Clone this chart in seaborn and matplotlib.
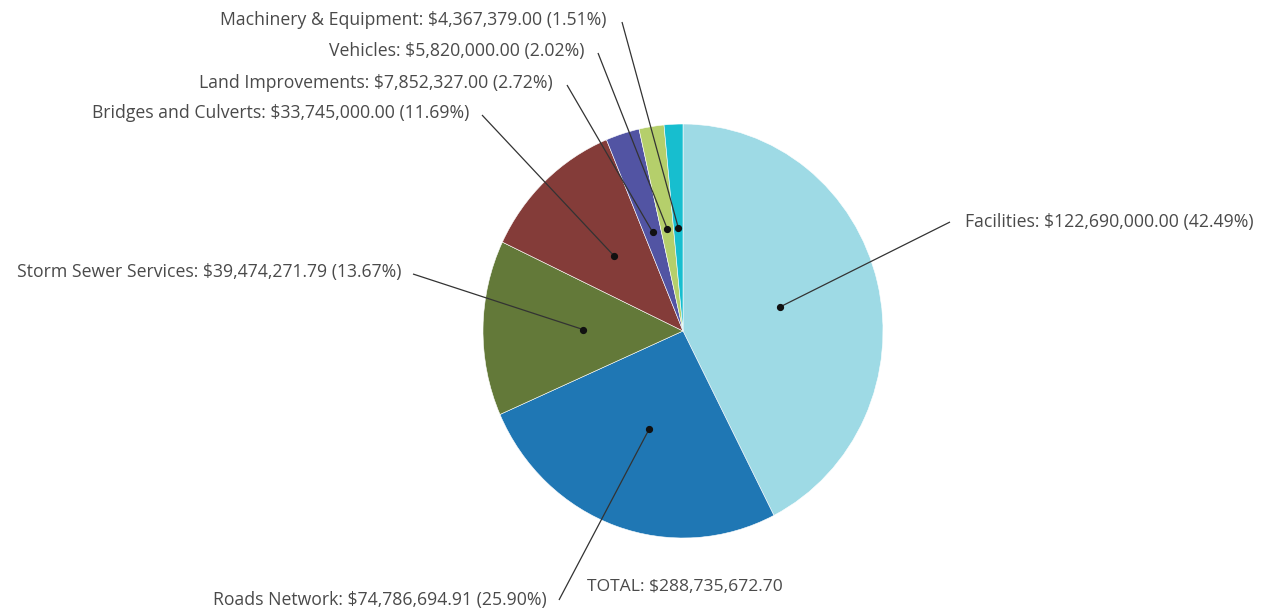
import numpy as np
import matplotlib
matplotlib.use("Agg")
import matplotlib.pyplot as plt
import seaborn as sns

categories = [
    "Facilities",
    "Roads Network",
    "Storm Sewer Services",
    "Bridges and Culverts",
    "Land Improvements",
    "Vehicles",
    "Machinery & Equipment",
]
values = [122690000.00, 74786694.91, 39474271.79, 33745000.00, 7852327.00, 5820000.00, 4367379.00]
slice_colors = ["#9edae5", "#1f77b4", "#637939", "#843c39", "#5254a3", "#b5cf6b", "#17becf"]

# label layout in pixels: (line end x, line end y, text x, text y, align)
label_layout = [
    (950, 222, 965, 222, "left"),
    (559, 600, 547, 600, "right"),
    (413, 274, 401, 272, "right"),
    (482, 115, 469, 113, "right"),
    (567, 85, 553, 83, "right"),
    (598, 53, 584, 51, "right"),
    (622, 22, 606, 20, "right"),
]

sns.set_style("white")
plt.rcParams["font.family"] = ["Open Sans", "DejaVu Sans"]

W, H = 1269, 611
KY = 1.035  # reference pie is a touch taller than wide

fig = plt.figure(figsize=(W / 100, H / 100), dpi=100)
ax = fig.add_axes([0, 0, 1, 1])

cx, cy, r = 683, 331 / KY, 200
wedges, _ = ax.pie(values, colors=slice_colors, startangle=-90, counterclock=True,
                   radius=r, center=(cx, cy),
                   wedgeprops=dict(edgecolor="white", linewidth=0.4))
ax.set_aspect("auto")
ax.set_xlim(0, W)
ax.set_ylim(H / KY, 0)
ax.axis("off")

total = sum(values)
for w, name, v, (lx, ly, tx, ty, ha) in zip(wedges, categories, values, label_layout):
    mid = np.deg2rad((w.theta1 + w.theta2) / 2)
    dx, dy = cx + 0.5 * r * np.cos(mid), cy + 0.5 * r * np.sin(mid)
    ax.plot([dx, lx], [dy, ly / KY], color="#333333", lw=0.9, solid_capstyle="butt")
    ax.plot(dx, dy, "o", color="#111111", ms=4.2)
    ax.text(tx, ty / KY, f"{name}: ${v:,.2f} ({v / total * 100:.2f}%)",
            ha=ha, va="center", fontsize=12.7, color="#4a4a4a")

ax.text(587, 587 / KY, f"TOTAL: ${total:,.2f}", ha="left", va="center",
        fontsize=12.6, color="#4a4a4a")

fig.savefig("out.png", dpi=100)
